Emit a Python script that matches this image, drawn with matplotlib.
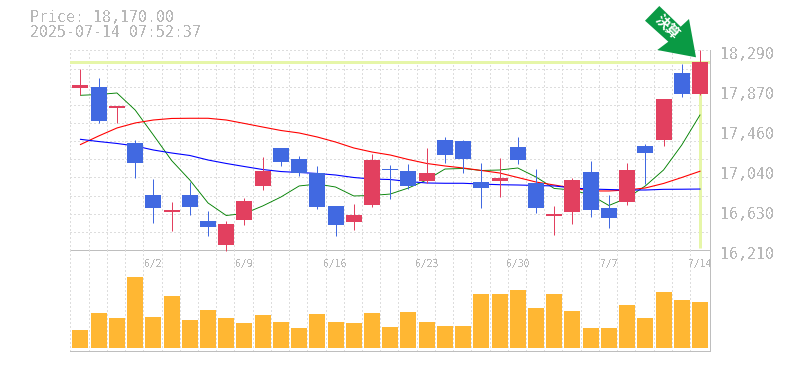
import numpy as np
import matplotlib
matplotlib.use("Agg")
import matplotlib.pyplot as plt
from matplotlib.patches import Polygon
from matplotlib.transforms import ScaledTranslation

W, H = 785, 370
plt.rcParams['font.family'] = ['DejaVu Sans Mono', 'DejaVu Sans']
plt.rcParams['text.antialiased'] = False

price_text = "Price: 18,170.00"
time_text = "2025-07-14 07:52:37"
current_price = 18170

opens = [17895,17905,17687,17320,16782,16608,16782,16512,16265,16525,16879,17271,17156,17011,16668,16504,16681,17052,17032,16931,17354,17344,16917,16931,17281,16907,16564,16608,17021,16647,16712,17292,17354,18051,17832]
closes = [17926,17555,17708,17118,16650,16626,16660,16452,16480,16720,17032,17128,17014,16660,16473,16574,17146,17042,16879,17011,17201,17156,16855,16959,17146,16650,16584,16938,16626,16546,17042,17219,17780,17832,18170]
highs = [18092,17999,17708,17354,16948,16709,16917,16616,16512,16751,17174,17271,17188,17084,16668,16688,17208,17094,17104,17271,17385,17354,17115,17167,17385,17052,16668,16962,17136,16782,17115,17312,17780,18144,18290]
lows = [17819,17534,17531,16962,16494,16408,16577,16359,16203,16473,16837,17087,16980,16640,16359,16421,16660,16743,16844,16904,17118,17014,16650,16764,17104,16598,16366,16484,16556,16442,16681,16896,17295,17801,17822]
ma_short = [17819,17827,17843,17666,17406,17141,16938,16699,16569,16590,16668,16761,16876,16896,16865,16772,16777,16792,16855,16938,17052,17058,17037,17042,17063,16969,16850,16834,16782,16673,16751,16876,17042,17302,17614]
ma_mid = [17307,17396,17479,17531,17562,17578,17580,17580,17562,17526,17489,17453,17427,17385,17333,17271,17229,17198,17151,17110,17084,17063,17037,17011,16964,16917,16886,16855,16824,16824,16834,16855,16902,16964,17029]
ma_long = [17361,17338,17318,17292,17250,17219,17193,17146,17110,17078,17047,17026,17016,17006,16990,16964,16948,16943,16922,16907,16904,16904,16896,16889,16886,16881,16876,16855,16844,16839,16834,16834,16841,16842,16844]
volumes = [18,35,30,71,31,52,28,38,30,25,33,26,20,34,26,25,35,21,36,26,22,22,54,54,58,40,54,37,20,20,43,30,56,48,46]
date_idx = [4,9,14,19,24,29,34]
date_labels = ["6/2","6/9","6/16","6/23","6/30","7/7","7/14"]
price_ticks = [18290,17870,17460,17040,16630,16210]

RED, BLUE, ORANGE = "#E2405F", "#4169E1", "#FFB733"
GRID, AXIS, TXT, HILITE = "#DDDDDD", "#BEBEBE", "#B8B8B8", "#E6F6A8"

fig = plt.figure(figsize=(W/100, H/100), dpi=100, facecolor="white")
def axes_px(l, t, r, b):
    return fig.add_axes([l/W, 1-b/H, (r-l)/W, (b-t)/H])

ax = axes_px(70, 50, 710, 250)
av = axes_px(70, 250, 710, 350.5)
xs = np.arange(len(opens))
xlim = (-0.576, 34.55)
px = 1/100*72  # points per pixel

for a in (ax, av):
    a.set_xlim(*xlim)
    a.set_facecolor("none")
    a.spines['left'].set_visible(False)
    a.spines['top'].set_visible(False)
    a.spines['right'].set_color(AXIS)
    a.spines['bottom'].set_color(AXIS)
    a.spines['right'].set_linewidth(1.0*px)
    a.spines['bottom'].set_linewidth(1.0*px)
    a.spines['right'].set_antialiased(False)
    a.spines['bottom'].set_antialiased(False)
    grid_x = np.r_[xlim[0], xs[:-1] + 0.45]
    a.vlines(grid_x, 0, 1, transform=a.get_xaxis_transform(), color=GRID, lw=px,
             linestyles=(0, (2, 2.5)), antialiased=False, zorder=0)

ax.set_ylim(16210, 18290)
grid_y = np.linspace(18290 - 5, 16210, 12)[:-1]
ax.hlines(grid_y, 0, 1, transform=ax.get_yaxis_transform(), color=GRID, lw=px,
          linestyles=(0, (2, 2.5)), antialiased=False, zorder=0)

ax.axhline(current_price, color=HILITE, lw=3*px, zorder=1)
ax.plot([xs[-1], xs[-1]], [16230, current_price], color=HILITE, lw=3*px, zorder=1, solid_capstyle='butt')

ax.plot(xs, ma_short, color="#008000", lw=0.9*px, zorder=2)
ax.plot(xs, ma_mid, color="#FF0000", lw=1.1*px, zorder=2.1)
ax.plot(xs, ma_long, color="#0000FF", lw=1.1*px, zorder=2.2)

o, c = np.array(opens), np.array(closes)
cols = [RED if cc >= oo else BLUE for oo, cc in zip(o, c)]
for x, lo, hi, col in zip(xs, lows, highs, cols):
    ax.plot([x, x], [lo, hi], color=col, lw=px, solid_capstyle='butt', snap=True, zorder=3, clip_on=False)
ax.bar(xs, np.abs(c-o), bottom=np.minimum(o, c), width=0.878, color=cols, antialiased=False, zorder=4)

ax.set_xticks([])
ax.yaxis.tick_right()
ax.set_yticks(price_ticks)
ax.set_yticklabels([f"{v:,}" for v in price_ticks], fontsize=10.7, color=TXT)
ax.tick_params(axis='y', length=0, pad=7)
for lab in ax.get_yticklabels():
    lab.set_transform(lab.get_transform() + ScaledTranslation(0, -3/100, fig.dpi_scale_trans))

av.bar(xs, volumes, width=0.878, color=ORANGE, antialiased=False, zorder=2)
av.set_ylim(-2.3, 98)
av.set_yticks([])
av.xaxis.tick_top()
av.set_xticks(date_idx)
av.set_xticklabels(date_labels, fontsize=7, color=TXT)
av.tick_params(axis='x', length=0, pad=-13.4)

fig.text(30/W, 1-18/H, price_text, fontsize=10.7, color=TXT, va='center', ha='left')
fig.text(30/W, 1-32.5/H, time_text, fontsize=10.7, color=TXT, va='center', ha='left')

arrow_px = [(659.3,6),(645,20.7),(668.3,41.7),(657.3,50),(696,57.3),(689,19),(680.7,26.7)]
fig.patches.append(Polygon([(x/W, 1-y/H) for x, y in arrow_px], closed=True, transform=fig.transFigure,
                           facecolor="#0A9A44", edgecolor="none", zorder=6, figure=fig))
t = fig.text(667/W, 1-27.5/H, "決算", family=['Noto Sans CJK JP', 'DejaVu Sans'], fontsize=10, fontweight='bold',
             color="white", rotation=-45, rotation_mode='anchor', ha='center', va='center', zorder=7)
t.set_antialiased(True)

fig.savefig("out.png", dpi=100)
